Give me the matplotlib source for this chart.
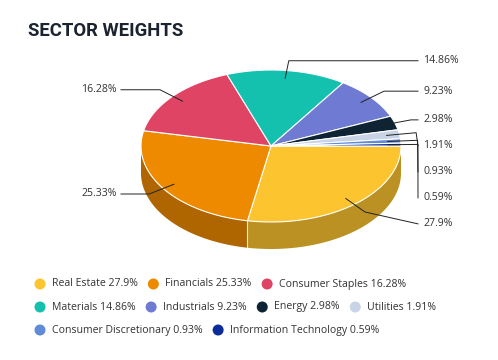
import numpy as np
import matplotlib.pyplot as plt
from matplotlib.patches import Polygon, Circle
from matplotlib.colors import to_rgb

sectors = ['Real Estate', 'Financials', 'Consumer Staples', 'Materials', 'Industrials',
           'Energy', 'Utilities', 'Consumer Discretionary', 'Information Technology']
weights = [27.9, 25.33, 16.28, 14.86, 9.23, 2.98, 1.91, 0.93, 0.59]
colors = ['#FCC42E', '#EE8A00', '#E04465', '#14C1AE', '#6F7BD3',
          '#0E2434', '#C9D3E6', '#5F8BD8', '#0C2C9A']

# pie geometry in pixels
CX, CY = 271, 146
RX, RY = 130, 76
DEPTH = 27
TEXT = '#333333'
FONT = 'Open Sans'


def pt(theta, scale=1.0, dy=0.0):
    return CX + RX * scale * np.cos(theta), CY + RY * scale * np.sin(theta) + dy


fig = plt.figure(figsize=(4.98, 3.60), dpi=100)
ax = fig.add_axes([0, 0, 1, 1])
ax.set_xlim(0, 498)
ax.set_ylim(360, 0)
ax.axis('off')

frac = np.array(weights) / sum(weights)
edges = np.concatenate([[0], np.cumsum(frac)]) * 2 * np.pi

# side walls (front half only)
for i, c in enumerate(colors):
    lo, hi = max(edges[i], 0), min(edges[i + 1], np.pi)
    if hi <= lo:
        continue
    t = np.linspace(lo, hi, 80)
    tx, ty = pt(t)
    bx, by = pt(t[::-1], dy=DEPTH)
    side = np.array(to_rgb(c)) * 0.74
    ax.add_patch(Polygon(np.column_stack([np.r_[tx, bx], np.r_[ty, by]]),
                         closed=True, facecolor=side, edgecolor='none', zorder=1))
for e in edges[1:-1]:
    if 0 < e < np.pi:
        x0, y0 = pt(e)
        ax.plot([x0, x0], [y0, y0 + DEPTH], color='white', lw=0.8, alpha=0.8, zorder=2)

# top faces
for i, c in enumerate(colors):
    t = np.linspace(edges[i], edges[i + 1], max(int(200 * frac[i]), 4))
    tx, ty = pt(t)
    ax.add_patch(Polygon(np.column_stack([np.r_[CX, tx], np.r_[CY, ty]]), closed=True,
                         facecolor=c, edgecolor='white', lw=0.8, joinstyle='round', zorder=3))

# data labels, spread out so they don't overlap
mids = (edges[:-1] + edges[1:]) / 2
label_pos = {}
for right in (True, False):
    idx = [i for i in range(len(weights)) if (np.cos(mids[i]) >= 0) == right]
    idx.sort(key=lambda i: pt(mids[i], 1.13)[1])
    prev = -1e9
    for i in idx:
        y = max(pt(mids[i], 1.13)[1], prev + 26)
        label_pos[i] = y
        prev = y

for i, w in enumerate(weights):
    right = np.cos(mids[i]) >= 0
    tx, ty = pt(mids[i], 0.9)
    bx, by = pt(mids[i], 1.13)
    ly = label_pos[i]
    lx = 418 if right else 121
    ax.plot([lx, bx, tx], [ly, by, ty], color='#222222', lw=0.7, zorder=4,
            solid_joinstyle='round')
    ax.text(423 if right else 117, ly, f'{w}%', ha='left' if right else 'right', va='center',
            fontsize=7.6, family=FONT, color=TEXT, zorder=5)

# title
ax.text(28, 36.5, 'SECTOR WEIGHTS', fontsize=13.3, family='Roboto', fontweight='bold',
        color='#1B2230', va='baseline', ha='left')

# legend
renderer = fig.canvas.get_renderer()
x, y = 34.5, 284
for name, w, c in zip(sectors, weights, colors):
    txt = ax.text(0, 0, f'{name} {w}%', fontsize=7.6, family=FONT, color=TEXT,
                  va='center', ha='left')
    width = txt.get_window_extent(renderer).width
    if x + 17.5 + width > 470:
        x, y = 34.5, y + 23
    ax.add_patch(Circle((x + 5.5, y), 5.5, facecolor=c, edgecolor='none'))
    txt.set_position((x + 17.5, y))
    x = x + 17.5 + width + 10

fig.savefig('out.png', dpi=100)
